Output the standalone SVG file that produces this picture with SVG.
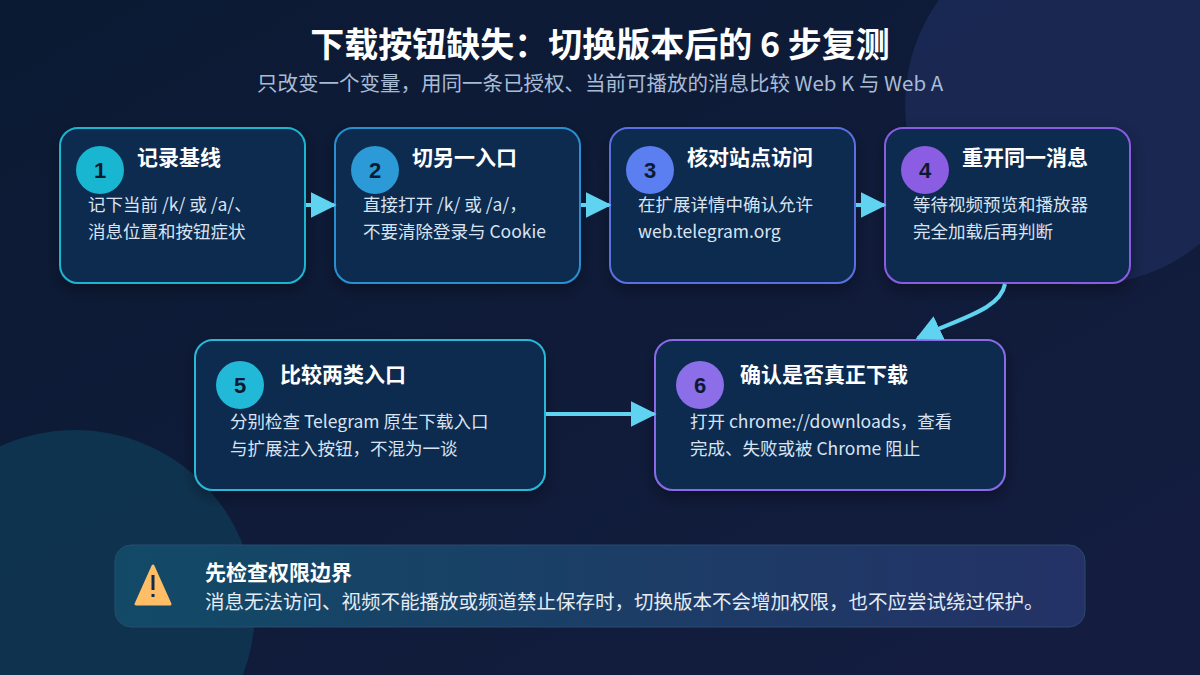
<svg xmlns="http://www.w3.org/2000/svg" width="1200" height="675" viewBox="0 0 1200 675">
<defs>
<linearGradient id="bg" x1="0" y1="0" x2="1" y2="1"><stop offset="0" stop-color="#0b1a33"/><stop offset="1" stop-color="#141d40"/></linearGradient>
<linearGradient id="warn" x1="0" y1="0" x2="1" y2="0"><stop offset="0" stop-color="#124a66"/><stop offset="1" stop-color="#243266"/></linearGradient>
<marker id="ah" viewBox="0 0 10 10" refX="9" refY="5" markerWidth="26" markerHeight="26" orient="auto" markerUnits="userSpaceOnUse"><path d="M0,0 L10,5 L0,10 z" fill="#5fd3f0"/></marker>
<filter id="sh" x="-20%" y="-20%" width="140%" height="150%"><feDropShadow dx="0" dy="6" stdDeviation="8" flood-color="#000" flood-opacity="0.35"/></filter>
</defs>
<style>
.box{fill:#0f2a4f;stroke-width:2;filter:url(#sh)}
.t{font-family:"Noto Sans CJK SC","Liberation Sans",sans-serif;font-weight:700;font-size:21px;fill:#fff}
.b{font-family:"Noto Sans CJK SC","Liberation Sans",sans-serif;font-size:17.5px;fill:#d8e4f2}
.n{font-family:"Liberation Sans","Noto Sans CJK SC",sans-serif;font-weight:700;font-size:22px;fill:#0b1a33;text-anchor:middle}
.c{stroke:#5fd3f0;stroke-width:4;fill:none}
</style>
<rect width="1200" height="675" fill="url(#bg)"/>
<circle cx="1085" cy="105" r="180" fill="#1c2a58" opacity="0.8"/>
<circle cx="75" cy="610" r="180" fill="#0f3a55" opacity="0.8"/>
<text x="600" y="57" text-anchor="middle" font-family="Noto Sans CJK SC,Liberation Sans,sans-serif" font-weight="700" font-size="34" fill="#fff">下载按钮缺失：切换版本后的 6 步复测</text>
<text x="600" y="91" text-anchor="middle" font-family="Noto Sans CJK SC,Liberation Sans,sans-serif" font-size="20.5" fill="#a9bcd6">只改变一个变量，用同一条已授权、当前可播放的消息比较 Web K 与 Web A</text>
<g id="node1"><rect class="box" x="60" y="128" width="245" height="155" rx="18" stroke="#1fb5cf"/><circle cx="100" cy="170" r="24" fill="#18b6d0"/><text class="n" x="100" y="178">1</text><text class="t" x="137" y="165">记录基线</text><text class="b" x="88" y="211">记下当前 /k/ 或 /a/、</text><text class="b" x="88" y="238">消息位置和按钮症状</text></g>
<g id="node2"><rect class="box" x="335" y="128" width="245" height="155" rx="18" stroke="#2a8fd0"/><circle cx="375" cy="170" r="24" fill="#2b9ad6"/><text class="n" x="375" y="178">2</text><text class="t" x="412" y="165">切另一入口</text><text class="b" x="363" y="211">直接打开 /k/ 或 /a/，</text><text class="b" x="363" y="238">不要清除登录与 Cookie</text></g>
<g id="node3"><rect class="box" x="610" y="128" width="245" height="155" rx="18" stroke="#5a6fe0"/><circle cx="650" cy="170" r="24" fill="#5b7ff0"/><text class="n" x="650" y="178">3</text><text class="t" x="687" y="165">核对站点访问</text><text class="b" x="638" y="211">在扩展详情中确认允许</text><text class="b" x="638" y="238">web.telegram.org</text></g>
<g id="node4"><rect class="box" x="885" y="128" width="245" height="155" rx="18" stroke="#8a5be0"/><circle cx="925" cy="170" r="24" fill="#8b5de2"/><text class="n" x="925" y="178">4</text><text class="t" x="962" y="165">重开同一消息</text><text class="b" x="913" y="211">等待视频预览和播放器</text><text class="b" x="913" y="238">完全加载后再判断</text></g>
<g id="node5"><rect class="box" x="195" y="340" width="350" height="150" rx="18" stroke="#2ab8d8"/><circle cx="240" cy="385" r="24" fill="#22b8d8"/><text class="n" x="240" y="393">5</text><text class="t" x="280" y="382">比较两类入口</text><text class="b" x="230" y="428">分别检查 Telegram 原生下载入口</text><text class="b" x="230" y="455">与扩展注入按钮，不混为一谈</text></g>
<g id="node6"><rect class="box" x="655" y="340" width="350" height="150" rx="18" stroke="#8a6be8"/><circle cx="700" cy="385" r="24" fill="#8b6ee8"/><text class="n" x="700" y="393">6</text><text class="t" x="740" y="382">确认是否真正下载</text><text class="b" x="690" y="428">打开 chrome://downloads，查看</text><text class="b" x="690" y="455">完成、失败或被 Chrome 阻止</text></g>
<g id="connectors">
<path class="c" d="M306,205 L334,205" marker-end="url(#ah)"/>
<path class="c" d="M581,205 L609,205" marker-end="url(#ah)"/>
<path class="c" d="M856,205 L884,205" marker-end="url(#ah)"/>
<path class="c" d="M1005,284 C1000,310 960,318 918,338" marker-end="url(#ah)"/>
<path class="c" d="M546,414 L654,414" marker-end="url(#ah)"/>
</g>
<g id="warning"><rect x="115" y="545" width="970" height="82" rx="16" fill="url(#warn)" stroke="#2a4a70" stroke-width="1"/><path d="M153,566 L136,604 L170,604 Z" fill="#ffbe66" stroke="#ffbe66" stroke-width="3" stroke-linejoin="round"/><rect x="151.5" y="575" width="3" height="15" fill="#0f2a4f"/><rect x="151.5" y="594" width="3" height="3" fill="#0f2a4f"/><text class="t" x="205" y="580" style="font-size:21px">先检查权限边界</text><text class="b" x="205" y="609" style="font-size:19.5px;fill:#e4ecf6">消息无法访问、视频不能播放或频道禁止保存时，切换版本不会增加权限，也不应尝试绕过保护。</text></g>
</svg>
